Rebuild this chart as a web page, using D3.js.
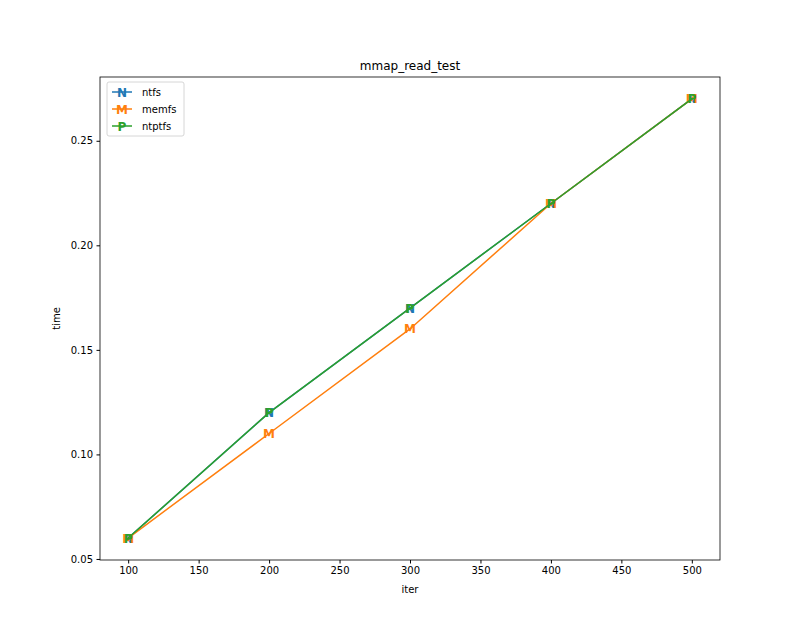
<!DOCTYPE html>
<html><head><meta charset="utf-8">
<script src="https://cdn.jsdelivr.net/npm/d3@7"></script>
<style>body{margin:0;background:#fff}text{font-family:"DejaVu Sans",sans-serif}</style>
</head><body><svg id="c" width="800" height="640"></svg>
<script>
const iters=[100,200,300,400,500];
const ntfs=[0.06,0.12,0.17,0.22,0.27];
const memfs=[0.06,0.11,0.16,0.22,0.27];
const ntptfs=[0.06,0.12,0.17,0.22,0.27];
const seriesNames=["ntfs","memfs","ntptfs"];
const markers=["N","M","P"];
const colors=["#1f77b4","#ff7f0e","#2ca02c"];
const xTicks=[100,150,200,250,300,350,400,450,500];
const yTicks=[0.05,0.10,0.15,0.20,0.25];
const data=[ntfs,memfs,ntptfs];
const svg=d3.select("#c");
const L=100,R=720,T=77,B=560;
const x=d3.scaleLinear().domain([80,520]).range([L,R]);
const y=d3.scaleLinear().domain([0.0495,0.2805]).range([B,T]);
svg.append("g").attr("transform",`translate(0,${B})`).call(d3.axisBottom(x).tickValues(xTicks).tickSize(3.5).tickPadding(3.5))
 .call(g=>{g.select(".domain").remove();g.selectAll("text").attr("font-size",10).attr("fill","#000");});
svg.append("g").attr("transform",`translate(${L},0)`).call(d3.axisLeft(y).tickValues(yTicks).tickFormat(d3.format(".2f")).tickSize(3.5).tickPadding(3.5))
 .call(g=>{g.select(".domain").remove();g.selectAll("text").attr("font-size",10).attr("fill","#000");});
svg.append("rect").attr("x",L).attr("y",T).attr("width",R-L).attr("height",B-T).attr("fill","none").attr("stroke","#000").attr("stroke-width",0.8);
const line=d3.line().x((d,i)=>x(iters[i])).y(d=>y(d));
data.forEach((s,k)=>{
 svg.append("path").datum(s).attr("d",line).attr("fill","none").attr("stroke",colors[k]).attr("stroke-width",1.5);
 svg.selectAll(null).data(s).enter().append("text").attr("x",(d,i)=>x(iters[i])).attr("y",d=>y(d)+4.5)
  .attr("text-anchor","middle").attr("font-size",12).attr("font-weight","bold").attr("fill",colors[k]).text(markers[k]);
});
svg.append("text").attr("x",(L+R)/2).attr("y",T-7).attr("text-anchor","middle").attr("font-size",12).text("mmap_read_test");
svg.append("text").attr("x",(L+R)/2).attr("y",B+33).attr("text-anchor","middle").attr("font-size",10).text("iter");
svg.append("text").attr("transform",`translate(${L-40},${(T+B)/2}) rotate(-90)`).attr("text-anchor","middle").attr("font-size",10).text("time");
const lg=svg.append("g").attr("transform",`translate(${L+7},${T+5})`);
lg.append("rect").attr("width",77).attr("height",54).attr("rx",2).attr("fill","#fff").attr("stroke","#ccc").attr("stroke-width",0.8);
seriesNames.forEach((n,k)=>{
 const yy=10+k*17;
 lg.append("line").attr("x1",5).attr("x2",25).attr("y1",yy).attr("y2",yy).attr("stroke",colors[k]).attr("stroke-width",1.5);
 lg.append("text").attr("x",15).attr("y",yy+4.5).attr("text-anchor","middle").attr("font-size",12).attr("font-weight","bold").attr("fill",colors[k]).text(markers[k]);
 lg.append("text").attr("x",35).attr("y",yy+3.5).attr("font-size",10).text(n);
});
</script></body></html>
